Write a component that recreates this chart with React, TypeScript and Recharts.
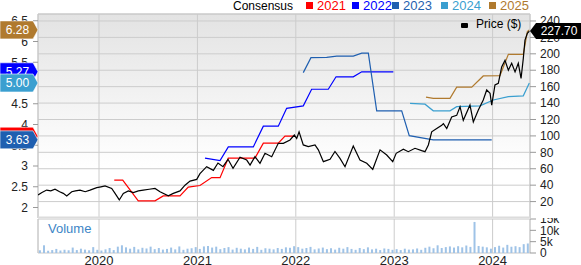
import {
  Bar,
  BarChart,
  CartesianGrid,
  ComposedChart,
  Line,
  ReferenceArea,
  ReferenceDot,
  ReferenceLine,
  XAxis,
  YAxis,
} from "recharts";

// time axis in decimal years
const X_MIN = 2019.38;
const X_MAX = 2024.38;
const yearTicks = [2020, 2021, 2022, 2023, 2024];

const epsTicks = [2, 2.5, 3, 3.5, 4, 4.5, 5, 5.5, 6, 6.5];
const priceTicks = [20, 40, 60, 80, 100, 120, 140, 160, 180, 200, 220, 240];
const volumeTicks = [0, 5, 10, 15];

const priceDates = [
  2019.38, 2019.42, 2019.468, 2019.51, 2019.553, 2019.6, 2019.637, 2019.672, 2019.723, 2019.76,
  2019.807, 2019.86, 2019.909, 2019.977, 2020.02, 2020.061, 2020.129, 2020.163, 2020.206, 2020.247,
  2020.298, 2020.349, 2020.4, 2020.45, 2020.51, 2020.569, 2020.62, 2020.704, 2020.755, 2020.823,
  2020.874, 2020.925, 2020.993, 2021.026, 2021.094, 2021.162, 2021.209, 2021.26, 2021.311, 2021.362,
  2021.433, 2021.501, 2021.535, 2021.585, 2021.636, 2021.687, 2021.755, 2021.822, 2021.873, 2021.941,
  2021.985, 2022.009, 2022.033, 2022.076, 2022.127, 2022.195, 2022.229, 2022.28, 2022.348, 2022.398,
  2022.449, 2022.5, 2022.584, 2022.652, 2022.721, 2022.782, 2022.856, 2022.924, 2022.985, 2023.02,
  2023.093, 2023.143, 2023.211, 2023.279, 2023.313, 2023.347, 2023.381, 2023.432, 2023.483, 2023.5,
  2023.534, 2023.584, 2023.635, 2023.669, 2023.702, 2023.77, 2023.804, 2023.855, 2023.905, 2023.94,
  2023.974, 2023.991, 2024.024, 2024.058, 2024.092, 2024.126, 2024.16, 2024.194, 2024.228, 2024.261,
  2024.289, 2024.312, 2024.329, 2024.353, 2024.373,
];
const priceValues = [
  28, 31, 34, 33, 35, 32, 30, 26.8, 32, 33,
  34, 32, 34, 37, 38, 39, 36, 30, 22, 30,
  33, 31, 33, 34, 35, 36, 32, 27, 30, 33,
  40, 45, 47, 54, 62.5, 58, 67, 62.5, 71.5, 60.5,
  74, 70.6, 64.5, 74.7, 66.6, 78.8, 74.7, 91, 91, 95,
  101, 97, 105, 89, 87, 89, 83, 68.6, 71.5, 81,
  72.7, 62.5, 87.7, 70.6, 66.6, 59.3, 83, 76.7, 68.6, 78.8,
  83.7, 80.8, 84.9, 82, 80.8, 89, 105, 109, 113, 115,
  109, 123, 125, 135.6, 119, 137.6, 117, 131.5, 143.7, 156,
  152, 137.6, 162, 164, 184, 192, 180, 188.4, 178, 188.4,
  170, 194.5, 216.8, 225, 227.7,
];

const eps2021Dates = [2020.155, 2020.241, 2020.399, 2020.569, 2020.653, 2020.823, 2020.907, 2021.026, 2021.145, 2021.23, 2021.314, 2021.585, 2021.67, 2021.822, 2021.89, 2021.992];
const eps2021Values = [2.66, 2.66, 2.16, 2.16, 2.28, 2.28, 2.49, 2.53, 2.72, 2.72, 3.19, 3.19, 3.55, 3.55, 3.72, 3.72];

const eps2022Dates = [2021.077, 2021.23, 2021.314, 2021.568, 2021.67, 2021.822, 2021.907, 2022.076, 2022.161, 2022.33, 2022.409, 2022.584, 2022.67, 2022.991];
const eps2022Values = [3.19, 3.13, 3.46, 3.46, 3.96, 3.96, 4.39, 4.45, 4.85, 4.85, 5.15, 5.15, 5.27, 5.27];

const eps2023Dates = [2022.076, 2022.154, 2022.314, 2022.416, 2022.584, 2022.67, 2022.737, 2022.822, 2023.076, 2023.153, 2023.397, 2023.991];
const eps2023Values = [5.25, 5.61, 5.62, 5.65, 5.65, 5.72, 5.72, 4.33, 4.33, 3.73, 3.63, 3.63];

const eps2024Dates = [2023.161, 2023.313, 2023.397, 2023.567, 2023.635, 2023.872, 2024.007, 2024.16, 2024.312, 2024.373];
const eps2024Values = [4.51, 4.49, 4.33, 4.33, 4.43, 4.45, 4.59, 4.67, 4.69, 5.0];

const eps2025Dates = [2023.323, 2023.397, 2023.567, 2023.635, 2023.788, 2023.905, 2024.075, 2024.16, 2024.312, 2024.353, 2024.373];
const eps2025Values = [4.66, 4.63, 4.63, 4.9, 4.9, 5.17, 5.18, 5.69, 5.69, 6.24, 6.28];

// volume in thousands, half-month buckets from mid 2019
const volumeStart = 2019.4;
const volumeValues = [
  1.2, 3.4, 1.0, 1.3, 1.8, 1.1, 1.4, 1.2, 2.4, 1.3, 1.9, 1.5, 1.2, 2.6,
  1.4, 1.1, 1.6, 2.2, 1.3, 2.8, 3.4, 2.5, 1.9, 2.7, 1.6, 2.3, 2.0, 2.8, 1.7, 2.2, 1.5, 1.8, 2.4, 1.6, 2.9, 1.4, 1.9, 2.1,
  2.6, 1.8, 2.9, 3.1, 2.4, 2.8, 1.7, 2.2, 2.6, 1.5, 2.3, 1.9, 1.6, 2.4, 1.8, 2.7, 1.4, 2.1, 1.9, 1.6, 2.2, 1.8, 2.5, 2.3,
  3.0, 2.6, 1.9, 2.2, 2.7, 1.6, 2.0, 2.4, 1.7, 2.1, 1.5, 2.3, 1.9, 2.6, 1.8, 1.4, 2.2, 1.7, 2.5, 1.6, 1.9, 1.3, 2.0, 1.8,
  1.4, 1.7, 1.3, 1.9, 1.5, 1.6, 2.0, 1.4, 2.3, 2.8, 2.1, 3.4, 2.2, 2.6, 2.9, 2.4, 3.0, 2.5, 3.3, 2.7, 13.7, 3.1, 2.8, 2.5,
  1.9, 2.6, 3.2, 2.4, 3.6, 2.8, 3.0, 2.6, 3.9, 4.2,
];

const PRICE_MAX = 248.5;
const EPS_DOMAIN: [number, number] = [1.747, 6.663];

const toPoints = (dates: number[], values: number[]) =>
  dates.map((t, i) => ({ t, v: values[i] }));

const series = [
  { year: "2021", color: "#ff0000", dates: eps2021Dates, values: eps2021Values },
  { year: "2022", color: "#0000ff", dates: eps2022Dates, values: eps2022Values },
  { year: "2023", color: "#1f5fb0", dates: eps2023Dates, values: eps2023Values },
  { year: "2024", color: "#3a9fd0", dates: eps2024Dates, values: eps2024Values },
  { year: "2025", color: "#b07a2e", dates: eps2025Dates, values: eps2025Values },
];

// badge draw order, last on top
const badgeOrder = ["2021", "2023", "2022", "2024", "2025"];

const leftBadge = (color: string, label: string) => (p: any) => {
  const { cx, cy } = p;
  const h = 9;
  return (
    <g>
      <path
        d={`M0,${cy - h} L${cx - 5},${cy - h} L${cx},${cy} L${cx - 5},${cy + h} L0,${cy + h} Z`}
        fill={color}
        stroke="#fff"
        strokeWidth={0.6}
      />
      <text x={(cx - 5) / 2 + 1} y={cy} dy="0.36em" textAnchor="middle" fill="#fff" fontSize={12}>
        {label}
      </text>
    </g>
  );
};

const rightBadge = (label: string) => (p: any) => {
  const { cx, cy } = p;
  const h = 8;
  return (
    <g>
      <path
        d={`M${cx},${cy} L${cx + 6},${cy - h} L581,${cy - h} L581,${cy + h} L${cx + 6},${cy + h} Z`}
        fill="#000"
      />
      <text x={559} y={cy} dy="0.36em" textAnchor="middle" fill="#fff" fontSize={12}>
        {label}
      </text>
    </g>
  );
};

const tickStyle = { fill: "#222", fontSize: 12 };
const legendLeft = [306, 352, 392, 441, 489];

export default function App() {
  const pricePoints = toPoints(priceDates, priceValues);
  const volumePoints = volumeValues.map((v, i) => ({ t: volumeStart + i / 24, v }));
  const lastPrice = priceValues[priceValues.length - 1];

  return (
    <div
      style={{
        position: "absolute",
        left: 0,
        top: 0,
        width: 581,
        height: 265,
        background: "#fff",
        fontFamily: '"Liberation Sans", Arial, sans-serif',
      }}
    >
      {/* consensus legend */}
      <div style={{ position: "absolute", left: 233, top: 0, fontSize: 12, lineHeight: "12px", color: "#000" }}>
        Consensus
      </div>
      {series.map((s, i) => (
        <div key={s.year}>
          <div style={{ position: "absolute", left: legendLeft[i], top: 2, width: 7, height: 7, background: s.color }} />
          <div
            style={{
              position: "absolute",
              left: legendLeft[i] + 11,
              top: 0,
              fontSize: 13,
              lineHeight: "12px",
              color: s.color,
            }}
          >
            {s.year}
          </div>
        </div>
      ))}

      <div style={{ position: "absolute", left: 0, top: 0 }}>
        <ComposedChart width={581} height={218} margin={{ top: 14, right: 0, bottom: 0, left: 0 }}>
          <defs>
            <linearGradient id="panelBg" x1="0" y1="0" x2="0" y2="1">
              <stop offset="0%" stopColor="#e3e3e3" />
              <stop offset="75%" stopColor="#ffffff" />
            </linearGradient>
          </defs>
          <XAxis
            xAxisId="x"
            dataKey="t"
            type="number"
            domain={[X_MIN, X_MAX]}
            ticks={yearTicks}
            allowDataOverflow
            hide
          />
          <YAxis
            yAxisId="eps"
            orientation="left"
            type="number"
            domain={EPS_DOMAIN}
            ticks={epsTicks}
            allowDataOverflow
            width={38}
            axisLine={false}
            tickLine={{ stroke: "#999" }}
            tickSize={5}
            tickMargin={5}
            tick={tickStyle}
            interval={0}
          />
          <YAxis
            yAxisId="price"
            orientation="right"
            type="number"
            domain={[0, PRICE_MAX]}
            ticks={priceTicks}
            allowDataOverflow
            width={51}
            axisLine={false}
            tickLine={{ stroke: "#999" }}
            tickSize={6}
            tickMargin={4}
            tick={tickStyle}
            interval={0}
          />
          <CartesianGrid
            xAxisId="x"
            yAxisId="price"
            stroke="#cccccc"
            fill="url(#panelBg)"
            fillOpacity={1}
          />
          <ReferenceArea
            xAxisId="x"
            yAxisId="price"
            x1={X_MIN}
            x2={X_MAX}
            y1={0}
            y2={PRICE_MAX}
            fill="none"
            stroke="#c8c8c8"
            ifOverflow="visible"
          />
          {series.map((s) => (
            <Line
              key={s.year}
              data={toPoints(s.dates, s.values)}
              xAxisId="x"
              yAxisId="eps"
              dataKey="v"
              stroke={s.color}
              strokeWidth={1.2}
              dot={false}
              isAnimationActive={false}
            />
          ))}
          <Line
            data={pricePoints}
            xAxisId="x"
            yAxisId="price"
            dataKey="v"
            stroke="#000"
            strokeWidth={1.2}
            dot={false}
            isAnimationActive={false}
          />
          <ReferenceLine xAxisId="x" yAxisId="price" y={0} stroke="#dcdcdc" strokeWidth={3} ifOverflow="visible" />
        </ComposedChart>
      </div>

      {/* badge overlay: same scales, drawn above the axis labels */}
      <div style={{ position: "absolute", left: 0, top: 0 }}>
        <ComposedChart width={581} height={218} margin={{ top: 14, right: 51, bottom: 0, left: 38 }}>
          <XAxis xAxisId="x" dataKey="t" type="number" domain={[X_MIN, X_MAX]} allowDataOverflow hide />
          <YAxis yAxisId="eps" type="number" domain={EPS_DOMAIN} allowDataOverflow hide />
          <YAxis yAxisId="price" orientation="right" type="number" domain={[0, PRICE_MAX]} allowDataOverflow hide />
          {badgeOrder.map((yr) => {
            const s = series.find((q) => q.year === yr)!;
            const last = s.values[s.values.length - 1];
            return (
              <ReferenceDot
                key={yr}
                xAxisId="x"
                yAxisId="eps"
                x={X_MIN}
                y={last}
                ifOverflow="visible"
                shape={leftBadge(s.color, last.toFixed(2))}
              />
            );
          })}
          <ReferenceDot
            xAxisId="x"
            yAxisId="price"
            x={X_MAX}
            y={lastPrice}
            ifOverflow="visible"
            shape={rightBadge(lastPrice.toFixed(2))}
          />
        </ComposedChart>
      </div>

      {/* price legend */}
      <div style={{ position: "absolute", left: 461, top: 23, width: 7, height: 5, background: "#000", borderRadius: 1 }} />
      <div style={{ position: "absolute", left: 476, top: 18, fontSize: 12, lineHeight: "13px", color: "#000" }}>
        Price ($)
      </div>

      <div style={{ position: "absolute", left: 0, top: 218 }}>
        <BarChart width={581} height={47} data={volumePoints} margin={{ top: 1, right: 0, bottom: 0, left: 38 }}>
          <XAxis
            dataKey="t"
            type="number"
            domain={[X_MIN, X_MAX]}
            ticks={yearTicks}
            allowDataOverflow
            interval={0}
            height={12}
            axisLine={false}
            tickLine={false}
            tickSize={0}
            tickMargin={3}
            tick={{ fill: "#222", fontSize: 13 }}
          />
          <YAxis
            yAxisId="vol"
            orientation="right"
            type="number"
            domain={[0, 15]}
            ticks={volumeTicks}
            allowDataOverflow
            width={51}
            axisLine={false}
            tickLine={{ stroke: "#999" }}
            tickSize={6}
            tickMargin={4}
            tick={tickStyle}
            interval={0}
            tickFormatter={(v: number) => (v === 0 ? "0" : `${v}k`)}
          />
          <CartesianGrid yAxisId="vol" horizontal={false} stroke="#cccccc" />
          <ReferenceArea
            yAxisId="vol"
            x1={X_MIN}
            x2={X_MAX}
            y1={0}
            y2={15}
            fill="none"
            stroke="#c8c8c8"
            ifOverflow="visible"
          />
          <Bar yAxisId="vol" dataKey="v" barSize={2} fill="#9fc3e7" isAnimationActive={false} />
        </BarChart>
      </div>
      <div style={{ position: "absolute", left: 48, top: 222, fontSize: 13, lineHeight: "14px", color: "#3d85c6" }}>
        Volume
      </div>
    </div>
  );
}
